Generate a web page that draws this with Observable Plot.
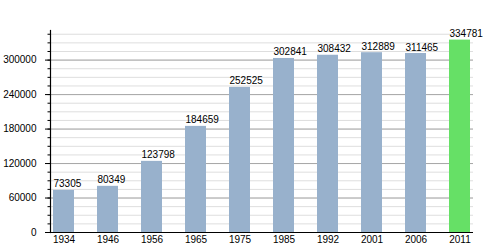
<!DOCTYPE html>
<html>
<head>
<meta charset="utf-8">
<script src="https://cdn.jsdelivr.net/npm/d3@7"></script>
<script src="https://cdn.jsdelivr.net/npm/@observablehq/plot@0.6"></script>
<style>
  html, body { margin: 0; padding: 0; background: #fff; }
  #chart svg { display: block; font-family: "Liberation Sans", Arial, sans-serif; }
</style>
</head>
<body>
<div id="chart"></div>
<script>
const years = ["1934", "1946", "1956", "1965", "1975", "1985", "1992", "2001", "2006", "2011"];
const population = [73305, 80349, 123798, 184659, 252525, 302841, 308432, 312889, 311465, 334781];
const highlighted = [false, false, false, false, false, false, false, false, false, true];
const majorTicks = [0, 60000, 120000, 180000, 240000, 300000];
const minorTicks = d3.range(0, 351000, 15000);

const data = years.map((year, i) => ({year, value: population[i], hi: highlighted[i]}));

const plot = Plot.plot({
  width: 500,
  height: 250,
  marginLeft: 50,
  marginRight: 27,
  marginTop: 30,
  marginBottom: 18,
  style: {fontSize: "10px", fontFamily: "Liberation Sans, Arial, sans-serif", background: "#fff"},
  x: {domain: years, paddingInner: 0.526, paddingOuter: 0.045, label: null},
  y: {domain: [0, 351520], label: null},
  marks: [
    Plot.gridY(minorTicks, {stroke: "#dedede", strokeOpacity: 1}),
    Plot.gridY(majorTicks, {stroke: "#a8a8a8", strokeOpacity: 1}),
    Plot.barY(data, {x: "year", y: "value", fill: d => d.hi ? "#66e066" : "#98b1cc"}),
    Plot.ruleY([0], {stroke: "#000", strokeWidth: 1.2}),
    Plot.frame({anchor: "left", stroke: "#000", strokeWidth: 1.2}),
    Plot.axisY(minorTicks, {tickSize: 2.5, text: null, stroke: "#000", label: null}),
    Plot.axisY(majorTicks, {tickSize: 5, tickPadding: 9, tickFormat: d => String(d), fill: "#000", label: null}),
    Plot.axisX({tickSize: 0, tickPadding: 3, label: null, fill: "#000"}),
    Plot.text(data, {x: "year", y: "value", text: d => String(d.value), textAnchor: "start", dx: -10.5, dy: -3, lineAnchor: "bottom", fill: "#000", fontSize: 10})
  ]
});
document.getElementById("chart").append(plot);
</script>
</body>
</html>
